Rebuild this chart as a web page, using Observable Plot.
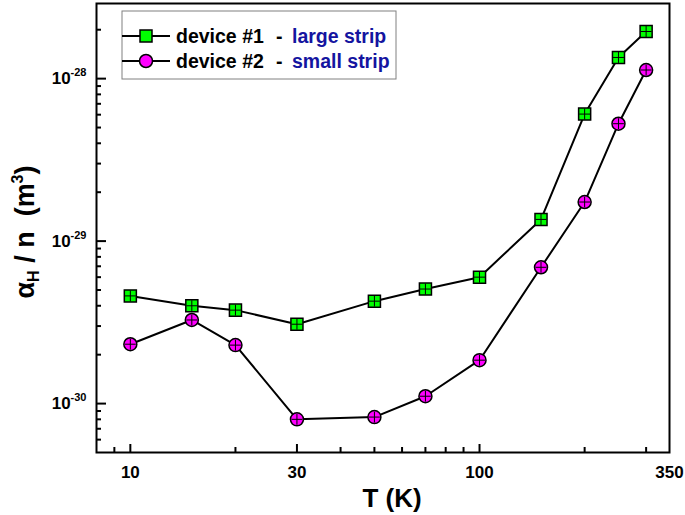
<!DOCTYPE html>
<html><head><meta charset="utf-8">
<script src="https://cdn.jsdelivr.net/npm/d3@7"></script>
<script src="https://cdn.jsdelivr.net/npm/@observablehq/plot@0.6"></script>
<style>
body{margin:0;background:#fff;}
#chart{width:685px;height:515px;}
</style>
</head><body><div id="chart"></div>
<script>
// ---- data ----
const temps = [10, 15, 20, 30, 50, 70, 100, 150, 200, 250, 300];
const device1 = [4.6e-30, 4.0e-30, 3.76e-30, 3.08e-30, 4.27e-30, 5.07e-30, 6.0e-30, 1.36e-29, 6.05e-29, 1.35e-28, 1.95e-28];
const device2 = [2.32e-30, 3.27e-30, 2.29e-30, 8.0e-31, 8.26e-31, 1.11e-30, 1.85e-30, 6.9e-30, 1.74e-29, 5.28e-29, 1.13e-28];
const seriesNames = ["device #1", "device #2"];
const seriesLabels = ["large strip", "small strip"];
const xTickLabels = [10, 30, 100, 350];
const xMajorTicks = [10, 30, 100];
const xMinorTicks = [9, 20, 40, 50, 60, 70, 80, 90, 200, 300];
const yMajorTicks = [1e-30, 1e-29, 1e-28];
const yMinorTicks = [6e-31, 7e-31, 8e-31, 9e-31,
  2e-30, 3e-30, 4e-30, 5e-30, 6e-30, 7e-30, 8e-30, 9e-30,
  2e-29, 3e-29, 4e-29, 5e-29, 6e-29, 7e-29, 8e-29, 9e-29, 2e-28];

// ---- layout ----
const W = 685, H = 515;
const mL = 96, mR = 16, mT = 3, mB = 63;
const pw = W - mL - mR, ph = H - mT - mB;
const FONT = "'Liberation Sans', Arial, Helvetica, sans-serif";
const GREEN = "#00ff00", MAGENTA = "#ff00ff", NAVY = "#1414a0";

const rows1 = temps.map((t, i) => ({T: t, v: device1[i], s: seriesNames[0]}));
const rows2 = temps.map((t, i) => ({T: t, v: device2[i], s: seriesNames[1]}));

const plot = Plot.plot({
  width: W, height: H,
  marginLeft: mL, marginRight: mR, marginTop: mT, marginBottom: mB,
  style: {fontFamily: FONT, fontWeight: "bold", fontSize: "17px", color: "black", background: "white"},
  x: {type: "log", domain: [8, 350], label: null},
  y: {type: "log", domain: [5e-31, 2.9e-28], label: null},
  marks: [
    Plot.tickX(xMajorTicks, {x: d => d, insetTop: ph - 8, stroke: "black", strokeWidth: 2}),
    Plot.tickX(xMinorTicks, {x: d => d, insetTop: ph - 5, stroke: "black", strokeWidth: 2}),
    Plot.tickY(yMajorTicks, {y: d => d, insetRight: pw - 10, stroke: "black", strokeWidth: 2}),
    Plot.tickY(yMinorTicks, {y: d => d, insetRight: pw - 5, stroke: "black", strokeWidth: 2}),
    Plot.axisX({ticks: xTickLabels, tickSize: 0, tickPadding: 13, tickFormat: d => String(d), fontSize: 17}),
    Plot.axisY({ticks: yMajorTicks, tickSize: 0, tickPadding: 10, tickFormat: d => "E" + Math.round(Math.log10(d)), fontSize: 17}),
    Plot.line(rows1, {x: "T", y: "v", stroke: "black", strokeWidth: 2}),
    Plot.line(rows2, {x: "T", y: "v", stroke: "black", strokeWidth: 2}),
    Plot.dot(rows1, {x: "T", y: "v", symbol: "square", r: 6.8, fill: GREEN, stroke: "black", strokeWidth: 1.5}),
    Plot.dot(rows1, {x: "T", y: "v", symbol: "plus", r: 3.6, stroke: "black", strokeWidth: 1}),
    Plot.dot(rows2, {x: "T", y: "v", symbol: "circle", r: 6.5, fill: MAGENTA, stroke: "black", strokeWidth: 1.5}),
    Plot.dot(rows2, {x: "T", y: "v", symbol: "plus", r: 3.6, stroke: "black", strokeWidth: 1}),
    Plot.frame({stroke: "black", strokeWidth: 2})
  ]
});

const svg = d3.select(plot);
svg.selectAll('[aria-label="y-axis tick label"] text').each(function () {
  const t = d3.select(this);
  const exp = t.text().replace("E", "").replace("\u2212", "-");
  t.text(null);
  t.append("tspan").text("10");
  t.append("tspan").attr("dy", "-8").attr("font-size", 11).text(exp);
});

svg.append("text")
  .attr("x", 392).attr("y", 507)
  .attr("text-anchor", "middle")
  .attr("font-size", 26).attr("font-weight", "bold").attr("font-family", FONT)
  .text("T (K)");

const yl = svg.append("text")
  .attr("transform", "translate(34,232) rotate(-90)")
  .attr("text-anchor", "middle")
  .attr("font-size", 27).attr("font-weight", "bold").attr("font-family", FONT)
  .style("white-space", "pre");
yl.append("tspan").text("α");
yl.append("tspan").attr("font-size", 16).attr("dy", 5).text("H");
yl.append("tspan").attr("dy", -5).text(" / n  (m");
yl.append("tspan").attr("font-size", 16).attr("dy", -11).text("3");
yl.append("tspan").attr("dy", 11).text(")");

const lg = svg.append("g").attr("font-family", FONT).attr("font-weight", "bold")
  .attr("font-size", 19.5).attr("text-anchor", "start");
lg.append("rect").attr("x", 122).attr("y", 11).attr("width", 274).attr("height", 68)
  .attr("fill", "white").attr("stroke", "#808080").attr("stroke-width", 1);
const legendRows = [
  {y: 36, name: seriesNames[0], label: seriesLabels[0], shape: "square", fill: GREEN},
  {y: 61, name: seriesNames[1], label: seriesLabels[1], shape: "circle", fill: MAGENTA}
];
legendRows.forEach(r => {
  lg.append("line").attr("x1", 122).attr("x2", 170).attr("y1", r.y).attr("y2", r.y)
    .attr("stroke", "black").attr("stroke-width", 2);
  if (r.shape === "square") {
    lg.append("rect").attr("x", 146 - 6).attr("y", r.y - 6).attr("width", 12).attr("height", 12)
      .attr("fill", r.fill).attr("stroke", "black").attr("stroke-width", 1.5);
  } else {
    lg.append("circle").attr("cx", 146).attr("cy", r.y).attr("r", 6.5)
      .attr("fill", r.fill).attr("stroke", "black").attr("stroke-width", 1.5);
  }
  lg.append("text").attr("x", 176).attr("y", r.y + 7).attr("text-anchor", "start").attr("fill", "black").text(r.name);
  lg.append("text").attr("x", 276).attr("y", r.y + 7).attr("text-anchor", "start").attr("fill", "black").text("-");
  lg.append("text").attr("x", 292).attr("y", r.y + 7).attr("text-anchor", "start").attr("fill", NAVY).text(r.label);
});

document.getElementById("chart").appendChild(plot);
</script>
</body></html>
